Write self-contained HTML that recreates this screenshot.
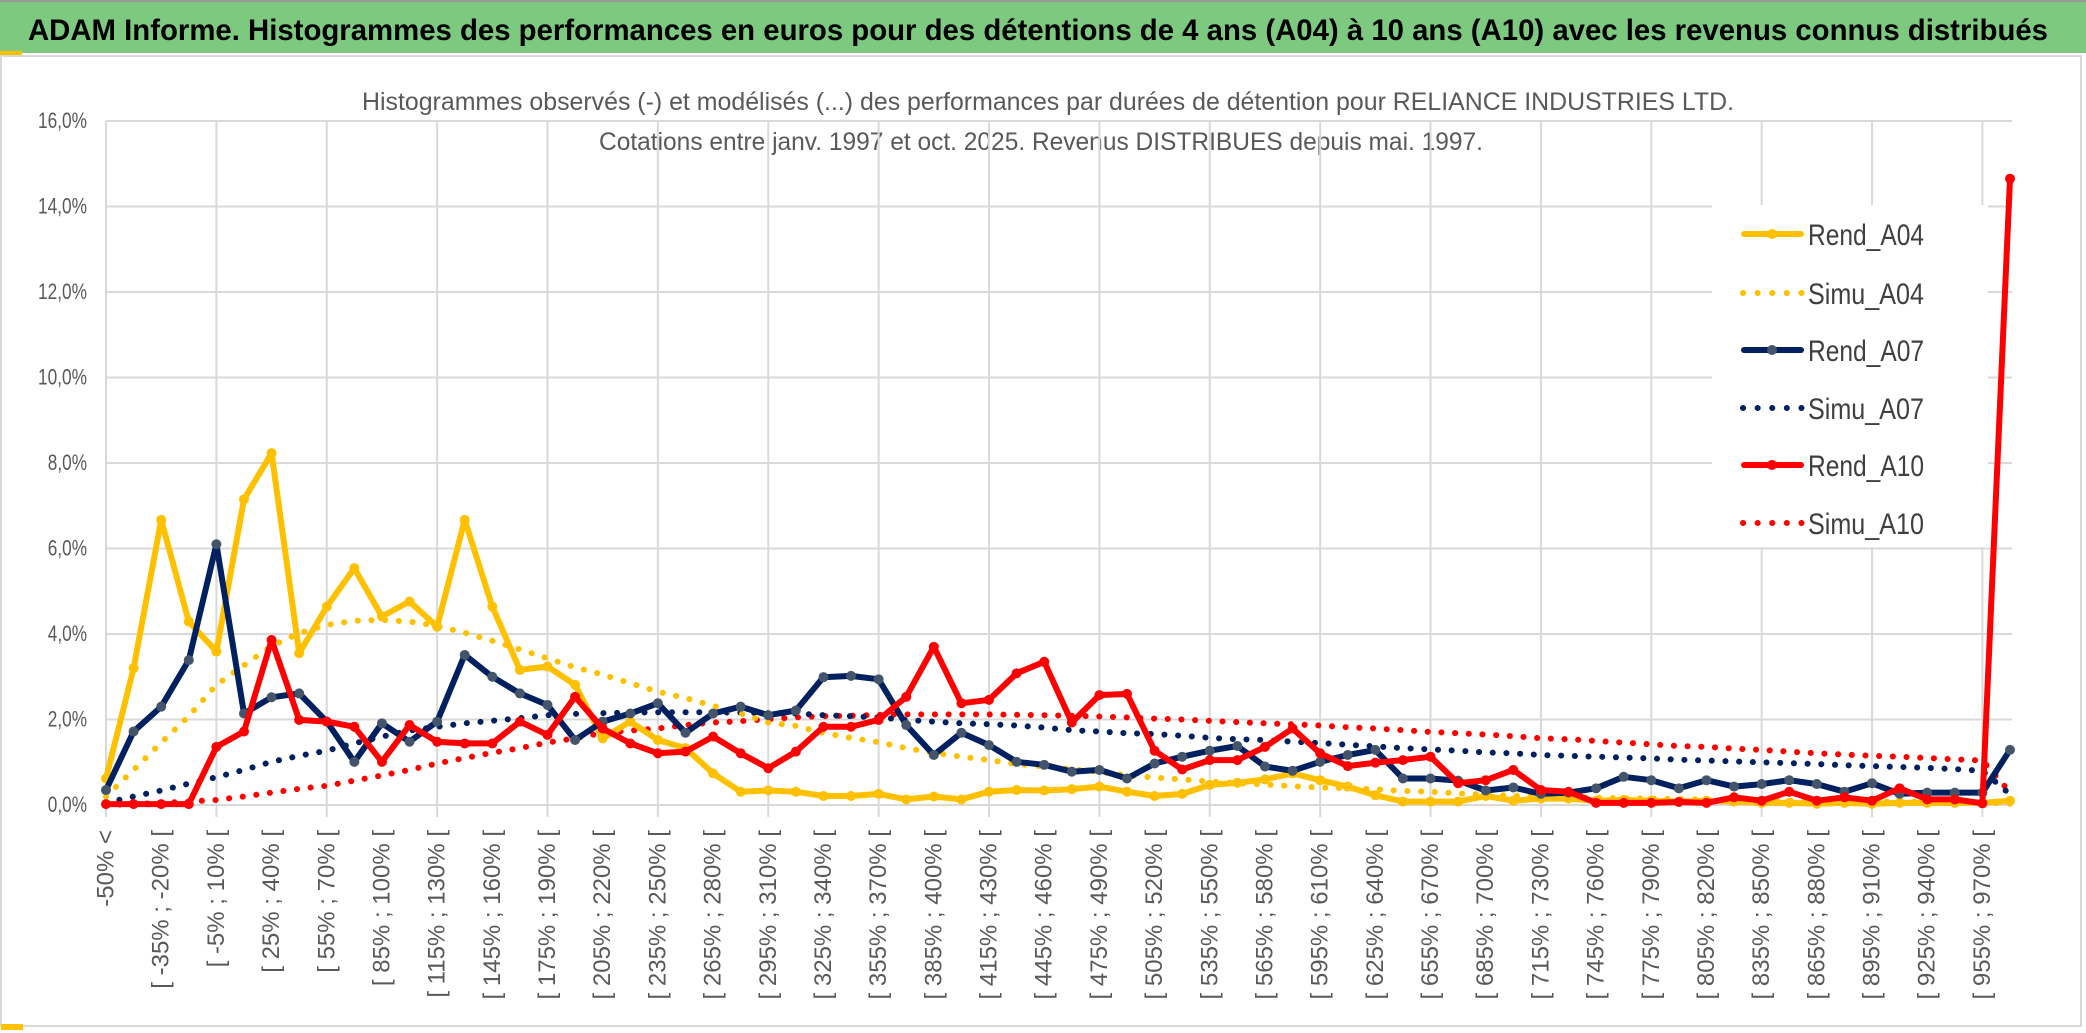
<!DOCTYPE html>
<html><head><meta charset="utf-8">
<style>
html,body{margin:0;padding:0;background:#fff;}
svg{display:block;font-family:"Liberation Sans",sans-serif;}
</style></head>
<body>
<svg id="chart" width="2086" height="1033" viewBox="0 0 2086 1033" xmlns="http://www.w3.org/2000/svg">
<rect x="0" y="0" width="2086" height="1033" fill="#fff"/>
<rect x="0" y="2" width="2086" height="51" fill="#7DC97F"/>
<rect x="0" y="0" width="2086" height="2" fill="#9a9a9a"/>
<rect x="0" y="51" width="22" height="4" fill="#FFC000"/>
<text x="28" y="40" font-size="30" font-weight="bold" fill="#000" textLength="2020" lengthAdjust="spacingAndGlyphs">ADAM Informe. Histogrammes des performances en euros pour des détentions de 4 ans (A04) à 10 ans (A10) avec les revenus connus distribués</text>
<rect x="1" y="56" width="2080" height="970" fill="#fff" stroke="#d9d9d9" stroke-width="2"/>
<rect x="1" y="1024" width="22" height="6" fill="#FFC000"/>
<text x="362" y="110" font-size="25" fill="#595959" textLength="1372" lengthAdjust="spacingAndGlyphs">Histogrammes observés (-) et modélisés (...) des performances par durées de détention pour RELIANCE INDUSTRIES LTD.</text>
<text x="599" y="150" font-size="25" fill="#595959" textLength="884" lengthAdjust="spacingAndGlyphs">Cotations entre janv. 1997 et oct. 2025. Revenus DISTRIBUES depuis mai. 1997.</text>
<g id="grid"></g>
<g id="series"></g>
<g id="legend"></g>
<g id="xlabels"></g>
</svg>
<script>
const categories = ["-50% <","[ -50% ; -35% [","[ -35% ; -20% [","[ -20% ; -5% [","[ -5% ; 10% [","[ 10% ; 25% [","[ 25% ; 40% [","[ 40% ; 55% [","[ 55% ; 70% [","[ 70% ; 85% [","[ 85% ; 100% [","[ 100% ; 115% [","[ 115% ; 130% [","[ 130% ; 145% [","[ 145% ; 160% [","[ 160% ; 175% [","[ 175% ; 190% [","[ 190% ; 205% [","[ 205% ; 220% [","[ 220% ; 235% [","[ 235% ; 250% [","[ 250% ; 265% [","[ 265% ; 280% [","[ 280% ; 295% [","[ 295% ; 310% [","[ 310% ; 325% [","[ 325% ; 340% [","[ 340% ; 355% [","[ 355% ; 370% [","[ 370% ; 385% [","[ 385% ; 400% [","[ 400% ; 415% [","[ 415% ; 430% [","[ 430% ; 445% [","[ 445% ; 460% [","[ 460% ; 475% [","[ 475% ; 490% [","[ 490% ; 505% [","[ 505% ; 520% [","[ 520% ; 535% [","[ 535% ; 550% [","[ 550% ; 565% [","[ 565% ; 580% [","[ 580% ; 595% [","[ 595% ; 610% [","[ 610% ; 625% [","[ 625% ; 640% [","[ 640% ; 655% [","[ 655% ; 670% [","[ 670% ; 685% [","[ 685% ; 700% [","[ 700% ; 715% [","[ 715% ; 730% [","[ 730% ; 745% [","[ 745% ; 760% [","[ 760% ; 775% [","[ 775% ; 790% [","[ 790% ; 805% [","[ 805% ; 820% [","[ 820% ; 835% [","[ 835% ; 850% [","[ 850% ; 865% [","[ 865% ; 880% [","[ 880% ; 895% [","[ 895% ; 910% [","[ 910% ; 925% [","[ 925% ; 940% [","[ 940% ; 955% [","[ 955% ; 970% [","> 970%"];
const yTicks = [0,2,4,6,8,10,12,14,16];
const yTickLabels = ["0,0%","2,0%","4,0%","6,0%","8,0%","10,0%","12,0%","14,0%","16,0%"];
const rendA04 = [0.62,3.2,6.67,4.29,3.59,7.15,8.23,3.55,4.64,5.54,4.41,4.76,4.17,6.67,4.64,3.16,3.24,2.81,1.56,1.95,1.52,1.33,0.74,0.31,0.34,0.31,0.21,0.21,0.26,0.13,0.2,0.13,0.31,0.35,0.34,0.37,0.43,0.31,0.21,0.26,0.47,0.52,0.6,0.74,0.58,0.43,0.23,0.08,0.08,0.08,0.21,0.1,0.15,0.15,0.1,0.12,0.1,0.08,0.1,0.08,0.05,0.05,0.03,0.05,0.03,0.05,0.05,0.05,0.05,0.1];
const simuA04 = [0.2,0.82,1.46,2.08,2.81,3.27,3.72,4.02,4.21,4.31,4.33,4.29,4.19,4.03,3.84,3.64,3.43,3.22,3.05,2.85,2.65,2.5,2.32,2.14,1.93,1.85,1.69,1.57,1.47,1.33,1.22,1.13,1.05,0.96,0.9,0.84,0.77,0.7,0.64,0.6,0.55,0.51,0.48,0.44,0.41,0.39,0.37,0.33,0.31,0.27,0.24,0.22,0.2,0.19,0.17,0.16,0.15,0.14,0.13,0.12,0.11,0.1,0.09,0.09,0.08,0.08,0.07,0.07,0.06,0.03];
const rendA07 = [0.35,1.72,2.3,3.39,6.1,2.14,2.52,2.61,1.95,1.01,1.91,1.48,1.95,3.51,3.0,2.61,2.34,1.52,1.95,2.14,2.38,1.69,2.14,2.3,2.1,2.21,2.99,3.02,2.94,1.87,1.17,1.69,1.4,1.01,0.94,0.78,0.82,0.62,0.97,1.13,1.27,1.38,0.9,0.8,1.01,1.17,1.29,0.62,0.62,0.57,0.34,0.41,0.26,0.29,0.39,0.66,0.58,0.39,0.58,0.43,0.49,0.58,0.49,0.31,0.51,0.26,0.29,0.29,0.29,1.29];
const simuA07 = [0.05,0.2,0.34,0.5,0.65,0.82,1.01,1.15,1.27,1.44,1.6,1.74,1.83,1.91,1.97,2.03,2.1,2.13,2.15,2.16,2.17,2.17,2.17,2.16,2.15,2.14,2.1,2.08,2.05,1.99,1.95,1.91,1.89,1.86,1.81,1.75,1.72,1.68,1.66,1.62,1.57,1.54,1.52,1.48,1.45,1.41,1.37,1.33,1.3,1.27,1.23,1.21,1.17,1.15,1.13,1.11,1.09,1.06,1.04,1.02,1.0,0.98,0.96,0.93,0.91,0.89,0.87,0.84,0.8,0.25];
const rendA10 = [0.02,0.02,0.02,0.02,1.36,1.72,3.86,1.99,1.95,1.83,1.01,1.87,1.48,1.44,1.44,1.95,1.64,2.53,1.79,1.44,1.21,1.25,1.6,1.21,0.86,1.25,1.83,1.83,1.99,2.53,3.7,2.38,2.46,3.08,3.35,1.93,2.57,2.6,1.27,0.83,1.05,1.05,1.36,1.79,1.21,0.91,0.99,1.05,1.13,0.51,0.58,0.82,0.35,0.31,0.05,0.05,0.05,0.07,0.05,0.18,0.1,0.31,0.1,0.18,0.1,0.39,0.13,0.13,0.04,14.65];
const simuA10 = [0.0,0.02,0.05,0.08,0.12,0.2,0.29,0.38,0.45,0.57,0.69,0.82,0.97,1.1,1.22,1.33,1.46,1.56,1.69,1.74,1.79,1.87,1.93,1.96,2.01,2.05,2.08,2.09,2.11,2.12,2.12,2.12,2.12,2.11,2.1,2.09,2.07,2.05,2.02,2.0,1.97,1.94,1.91,1.89,1.86,1.82,1.79,1.75,1.71,1.68,1.65,1.61,1.56,1.54,1.5,1.46,1.42,1.38,1.36,1.32,1.29,1.25,1.21,1.18,1.15,1.13,1.1,1.07,1.04,0.3];

const NS = "http://www.w3.org/2000/svg";
const X0 = 106, X1 = 2010, Y0 = 805, YTOP = 121, YMAX = 16;
function xScale(i){ return X0 + i * (X1 - X0) / (categories.length - 1); }
function yScale(v){ return Y0 - v / YMAX * (Y0 - YTOP); }
function mk(tag, attrs, parent){ const e = document.createElementNS(NS, tag); for (const k in attrs) e.setAttribute(k, attrs[k]); parent.appendChild(e); return e; }

const grid = document.getElementById('grid');
yTicks.forEach((t, k) => {
  const l = mk('line', {x1: X0, x2: X1 + 2, y1: yScale(t), y2: yScale(t), stroke: '#d9d9d9', 'stroke-width': 2}, grid);
  
  
  const lab = yTickLabels[k];
  const tx = mk('text', {x: 87, y: yScale(t) + 7, 'text-anchor': 'end', 'font-size': 22, fill: '#595959', textLength: lab.length * 9.8, lengthAdjust: 'spacingAndGlyphs'}, grid);
  tx.textContent = lab;
  
  
});
for (let i = 0; i < categories.length; i += 4) {
  const l = mk('line', {x1: xScale(i), x2: xScale(i), y1: YTOP, y2: Y0 + 12, stroke: '#d9d9d9', 'stroke-width': 2}, grid);
  
  
}

const xl = document.getElementById('xlabels');
categories.forEach((c, i) => {
  if (i % 2 !== 0) return;
  const x = xScale(i), y = 830;
  const t = mk('text', {x: x, y: y, 'text-anchor': 'end', 'dominant-baseline': 'central', 'font-size': 24, fill: '#595959', transform: `rotate(-90 ${x} ${y})`}, xl);
  t.textContent = c;
  
  
});

const seriesG = document.getElementById('series');
function pts(arr){ return arr.map((v, i) => xScale(i).toFixed(1) + ',' + yScale(v).toFixed(1)).join(' '); }
function dotted(arr, color, name){
  const p = mk('polyline', {points: pts(arr), fill: 'none', stroke: color, 'stroke-width': 6, 'stroke-dasharray': '0.1 13.6', 'stroke-linecap': 'round'}, seriesG);
  
  
}
function solid(arr, color, mcolor, name){
  const g = mk('g', {}, seriesG);
  
  
  mk('polyline', {points: pts(arr), fill: 'none', stroke: color, 'stroke-width': 6, 'stroke-linejoin': 'round'}, g);
  arr.forEach((v, i) => {
    const c = mk('circle', {cx: xScale(i), cy: yScale(v), r: 5, fill: mcolor}, g);
    
    
  });
}
dotted(simuA10, '#FF0000', 'simu-a10-line');
dotted(simuA07, '#002060', 'simu-a07-line');
dotted(simuA04, '#FFC000', 'simu-a04-line');
solid(rendA04, '#FFC000', '#FFC000', 'rend-a04-line');
solid(rendA07, '#002060', '#44546A', 'rend-a07-line');
solid(rendA10, '#FF0000', '#FF0000', 'rend-a10-line');

const lg = document.getElementById('legend');
const lbox = mk('rect', {x: 1712, y: 205, width: 276, height: 342, fill: '#fff'}, lg);


const legendNames = ['Rend_A04','Simu_A04','Rend_A07','Simu_A07','Rend_A10','Simu_A10'];
const legendColors = ['#FFC000','#FFC000','#002060','#002060','#FF0000','#FF0000'];
const legendMarker = ['#FFC000',null,'#44546A',null,'#FF0000',null];
const legendY = [234,293,350,408,465,523];
legendNames.forEach((n, k) => {
  const g = mk('g', {}, lg);
  
  
  const y = legendY[k];
  if (legendMarker[k]) {
    mk('line', {x1: 1744, x2: 1801, y1: y, y2: y, stroke: legendColors[k], 'stroke-width': 6, 'stroke-linecap': 'round'}, g);
    mk('circle', {cx: 1772, cy: y, r: 5, fill: legendMarker[k]}, g);
  } else {
    mk('line', {x1: 1743, x2: 1802, y1: y, y2: y, stroke: legendColors[k], 'stroke-width': 6, 'stroke-dasharray': '0.1 14.5', 'stroke-linecap': 'round'}, g);
  }
  const t = mk('text', {x: 1808, y: y + 11, 'font-size': 30, fill: '#404040', textLength: 116, lengthAdjust: 'spacingAndGlyphs'}, g);
  t.textContent = n;
});
</script>
</body></html>
